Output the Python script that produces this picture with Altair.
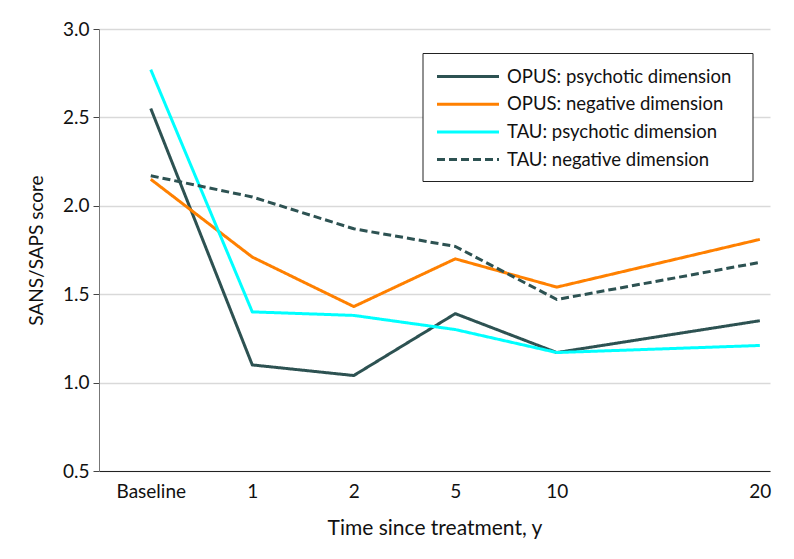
import altair as alt
import pandas as pd

time_labels = ["Baseline", "1", "2", "5", "10", "20"]
time_pos = [0, 1, 2, 3, 4, 6]

series_names = [
    "OPUS: psychotic dimension",
    "OPUS: negative dimension",
    "TAU: psychotic dimension",
    "TAU: negative dimension",
]
opus_psychotic = [2.55, 1.10, 1.04, 1.39, 1.17, 1.35]
opus_negative = [2.15, 1.71, 1.43, 1.70, 1.54, 1.81]
tau_psychotic = [2.77, 1.40, 1.38, 1.30, 1.17, 1.21]
tau_negative = [2.17, 2.05, 1.87, 1.77, 1.47, 1.68]

colors = ["#2d5252", "#ff8000", "#00ffff", "#2d5252"]
dashes = [[1, 0], [1, 0], [1, 0], [8, 4]]

rows = []
for name, vals in zip(series_names, [opus_psychotic, opus_negative, tau_psychotic, tau_negative]):
    for lab, pos, v in zip(time_labels, time_pos, vals):
        rows.append({"series": name, "label": lab, "pos": pos, "score": v})
df = pd.DataFrame(rows)

label_expr = "{0:'Baseline',1:'1',2:'2',3:'5',4:'10',6:'20'}[datum.value]"

font = "Lato"
fs = 19

lines = alt.Chart(df).mark_line(strokeWidth=3, strokeJoin="round").encode(
    x=alt.X("pos:Q",
            scale=alt.Scale(domain=[-0.51, 6.1], nice=False, zero=False),
            axis=alt.Axis(values=time_pos, labelExpr=label_expr, grid=False, ticks=False,
                          title="Time since treatment, y", labelFontSize=fs, titleFontSize=21,
                          labelPadding=11, titlePadding=16, domainColor="#222222",
                          labelColor="#111111", titleColor="#111111", labelFont=font, titleFont=font,
                          titleFontWeight="normal")),
    y=alt.Y("score:Q",
            scale=alt.Scale(domain=[0.5, 3.0], nice=False, zero=False),
            axis=alt.Axis(values=[0.5, 1.0, 1.5, 2.0, 2.5, 3.0], format=".1f", grid=True,
                          gridColor="#d9d9d9", gridWidth=1.5, domainColor="#777777", tickColor="#444444",
                          tickSize=6, title="SANS/SAPS score", labelFontSize=fs, titleFontSize=fs,
                          labelPadding=4, titlePadding=16, labelColor="#111111", titleColor="#111111",
                          labelFont=font, titleFont=font, titleFontWeight="normal")),
    color=alt.Color("series:N", scale=alt.Scale(domain=series_names, range=colors), legend=None),
    strokeDash=alt.StrokeDash("series:N", scale=alt.Scale(domain=series_names, range=dashes), legend=None),
    detail="series:N",
)

# legend box (drawn manually)
box = alt.Chart(pd.DataFrame({"k": [0]})).mark_rect(fill="white", stroke="#222222", strokeWidth=1).encode(
    x=alt.value(324), x2=alt.value(654), y=alt.value(24.5), y2=alt.value(152.5)
)

legend_layers = [box]
for i, name in enumerate(series_names):
    yy = 47.5 + 27.7 * i
    one = alt.Chart(pd.DataFrame({"series": [name]}))
    legend_layers.append(
        one.mark_rule(strokeWidth=3, strokeDash=dashes[i], color=colors[i]).encode(
            x=alt.value(338), x2=alt.value(400), y=alt.value(yy)
        )
    )
    legend_layers.append(
        one.mark_text(align="left", baseline="middle", font=font, fontSize=18.5, color="#111111").encode(
            x=alt.value(408), y=alt.value(yy), text="series:N"
        )
    )

chart = alt.layer(lines, *legend_layers).properties(
    width=671, height=442,
    autosize=alt.AutoSizeParams(type="none"),
    padding={"left": 91, "top": 21, "right": 10, "bottom": 70},
).configure_view(stroke=None)

chart.save("out.html", embed_options={"renderer": "svg", "actions": False})
